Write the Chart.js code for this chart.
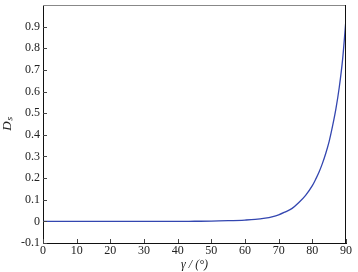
<!DOCTYPE html>
<html>
<head>
<meta charset="utf-8">
<script src="https://cdn.jsdelivr.net/npm/chart.js@4/dist/chart.umd.min.js"></script>
<style>
  body { margin: 0; background: #fff; }
  #wrap { width: 358px; height: 272px; }
</style>
</head>
<body>
<div id="wrap"><canvas id="grafico" width="358" height="272"></canvas></div>
<script>
/* data */
var gamma = [0, 10, 20, 30, 40, 45, 50, 55, 60, 63, 66, 68, 70, 72, 74, 76, 78, 80, 81, 82, 83, 84, 85, 86, 87, 88, 89, 90];
var ds    = [0, 0, 0, 0, 0, 0.0005, 0.001, 0.003, 0.006, 0.009, 0.015, 0.021, 0.03, 0.044, 0.06, 0.087, 0.12, 0.165, 0.195, 0.228, 0.268, 0.315, 0.37, 0.44, 0.52, 0.62, 0.75, 0.935];

var points = [];
for (var i = 0; i < gamma.length; i++) {
  points.push({ x: gamma[i], y: ds[i] });
}

var serif = '"Liberation Serif", "Times New Roman", serif';

/* inward ticks + top/right frame */
var frame = {
  id: 'frame',
  afterDraw: function(chart) {
    var c = chart.ctx, a = chart.chartArea;
    var sx = chart.scales.x, sy = chart.scales.y;
    c.save();
    c.strokeStyle = '#888';
    c.lineWidth = 1;
    c.beginPath();
    c.moveTo(a.left, a.top + 0.5);
    c.lineTo(a.right, a.top + 0.5);
    c.stroke();
    c.strokeStyle = '#111';
    c.beginPath();
    c.moveTo(a.right - 0.5, a.top);
    c.lineTo(a.right - 0.5, a.bottom);
    c.stroke();
    c.strokeStyle = '#444';
    c.beginPath();
    sx.ticks.forEach(function(t) {
      var px = Math.round(sx.getPixelForValue(t.value)) + 0.5;
      c.moveTo(px, a.bottom);
      c.lineTo(px, a.bottom - 4);
    });
    sy.ticks.forEach(function(t) {
      var py = Math.round(sy.getPixelForValue(t.value)) + 0.5;
      c.moveTo(a.left, py);
      c.lineTo(a.left + 4, py);
    });
    c.stroke();
    c.restore();
  }
};

var ctx = document.getElementById('grafico');
var chart = new Chart(ctx, {
  type: 'scatter',
  data: {
    datasets: [{
      data: points,
      showLine: true,
      borderColor: '#3346b0',
      borderWidth: 1.3,
      pointRadius: 0,
      cubicInterpolationMode: 'monotone'
    }]
  },
  options: {
    responsive: false,
    animation: false,
    layout: { padding: { top: 5, right: 12, left: 0, bottom: 0 } },
    plugins: { legend: { display: false }, tooltip: { enabled: false } },
    scales: {
      x: {
        type: 'linear',
        min: 0, max: 90,
        grid: { display: false, drawTicks: false, tickLength: 0 },
        border: { display: true, color: '#111', width: 1 },
        ticks: { stepSize: 10, color: '#222', font: { family: serif, size: 12 }, padding: 1, maxRotation: 0 },
        title: {
          display: true,
          text: 'γ / (°)',
          color: '#222',
          font: { family: serif, size: 12, style: 'italic' },
          padding: { top: 0, bottom: 0 }
        },
        afterFit: function(s) { s.height = 29; }
      },
      y: {
        min: -0.1, max: 1.0,
        grid: { display: false, drawTicks: false, tickLength: 0 },
        border: { display: true, color: '#111', width: 1 },
        afterBuildTicks: function(s) {
          s.ticks = s.ticks.filter(function(t) { return t.value < 0.95; });
        },
        ticks: {
          stepSize: 0.1,
          color: '#222',
          font: { family: serif, size: 12 },
          padding: 3,
          callback: function(v) {
            var r = Math.round(v * 10) / 10;
            return r === 0 ? '0' : String(r);
          }
        },
        title: {
          display: true,
          text: 'Dₛ',
          color: '#222',
          font: { family: serif, size: 13, style: 'italic' },
          padding: { top: 0, bottom: 2 }
        },
        afterFit: function(s) {
          s.width = 43;
          s.paddingTop = 0;
          s.paddingBottom = 0;
        }
      }
    }
  },
  plugins: [frame]
});
</script>
</body>
</html>
